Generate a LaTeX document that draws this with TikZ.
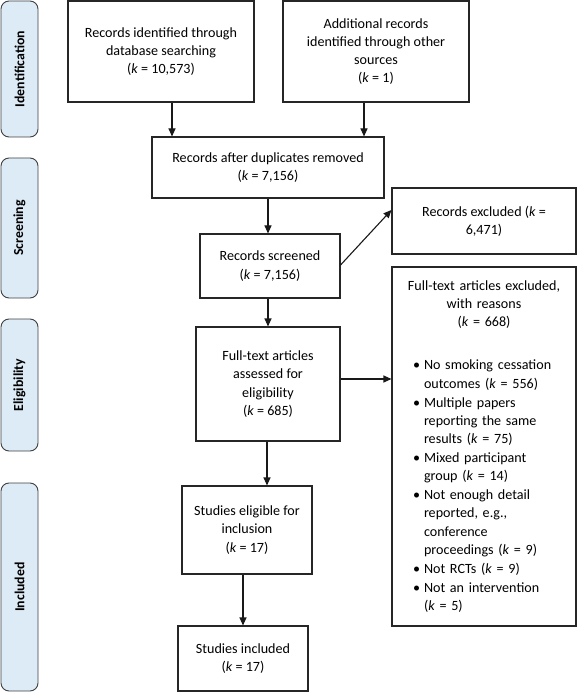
\documentclass[tikz,border=0pt]{standalone}
\usepackage{fontspec}
\setmainfont{Carlito}
\usepackage{tikz}
\usetikzlibrary{arrows.meta}
\definecolor{stagefill}{RGB}{221,235,247}
\definecolor{stageline}{RGB}{64,64,64}
\newcommand{\exitem}[1]{\par\vspace{0.8pt}\hangindent=22pt\hangafter=1\noindent\hspace*{11pt}\makebox[11pt][l]{\textbullet}#1\par}

\begin{document}
\begin{tikzpicture}[x=1pt, y=-1pt, font=\fontsize{14.1}{18.2}\selectfont,
	box/.style={draw=black!85, line width=1.1pt, align=center, inner sep=0pt},
	stage/.style={draw=stageline, fill=stagefill, line width=0.9pt, rounded corners=8pt, rotate=90, minimum height=37pt, inner sep=0pt, font=\fontsize{13.8}{16}\selectfont\bfseries},
	arr/.style={line width=1.1pt, draw=black!90, -{Triangle[length=8pt,width=7pt]}}]
			%%%%% START %%%%%
			\useasboundingbox (0,0) rectangle (577,692);
			
			\node[stage, minimum width=136pt] (ident) at (19.5,69) {Identification};
			\node[stage, minimum width=140pt] (screen) at (19.5,228) {Screening};
			\node[stage, minimum width=132pt] (elig) at (19.5,385) {Eligibility};
			\node[stage, minimum width=208pt] (incl) at (19.5,587) {Included};
			
			\node[box, minimum width=186pt, minimum height=101pt] (db) at (161,51.5) {Records identified through\\database searching\\(\textit{k} = 10,573)};
			\node[box, minimum width=186pt, minimum height=101pt] (other) at (376,51.5) {Additional records\\identified through other\\sources\\(\textit{k} = 1)};
			\node[box, minimum width=232pt, minimum height=61pt] (dup) at (268,167.5) {Records after duplicates removed\\(\textit{k} = 7,156)};
			
			\node[box, minimum width=140pt, minimum height=64pt] (screened) at (270,266) {Records screened\\(\textit{k} = 7,156)};
			\node[box, minimum width=184pt, minimum height=66pt] (excl) at (484,221) {Records excluded (\textit{k} =\\6,471)};
			
			\node[box, minimum width=144pt, minimum height=114pt] (fulltext) at (268,384) {Full-text articles\\assessed for\\eligibility\\(\textit{k} = 685)};
			\node[box, minimum width=184pt, minimum height=359pt, text width=164pt, align=left] (ftexcl) at (484,446.5) {%
				{\centering Full-text articles excluded,\\with reasons\\(\textit{k} = 668)\par}
				\vspace{24pt}
				\exitem{No smoking cessation\newline outcomes (\textit{k} = 556)}
				\exitem{Multiple papers\newline reporting the same\newline results (\textit{k} = 75)}
				\exitem{Mixed participant\newline group (\textit{k} = 14)}
				\exitem{Not enough detail\newline reported, e.g.,\newline conference\newline proceedings (\textit{k} = 9)}
				\exitem{Not RCTs (\textit{k} = 9)}
				\exitem{Not an intervention\newline (\textit{k} = 5)}};
			
			\node[box, minimum width=130pt, minimum height=88pt] (eligible) at (247,530) {Studies eligible for\\inclusion\\(\textit{k} = 17)};
			\node[box, minimum width=130pt, minimum height=65pt] (included) at (243,658.5) {Studies included\\(\textit{k} = 17)};
			
			\draw[arr] ([xshift=11pt]db.south) -- ([xshift=11pt]db.south |- dup.north);
			\draw[arr] ([xshift=-12pt]other.south) -- ([xshift=-12pt]other.south |- dup.north);
			\draw[arr] (dup.south) -- (dup.south |- screened.north);
			\draw[arr] ([yshift=1pt]screened.east) -- ([yshift=11pt]excl.west);
			\draw[arr] (screened.south -| fulltext) -- (fulltext.north);
			\draw[arr] ([yshift=5pt]fulltext.east) -- ([yshift=5pt]fulltext.east -| ftexcl.west);
			\draw[arr] ([xshift=-1pt]fulltext.south) -- ([xshift=-1pt]fulltext.south |- eligible.north);
			\draw[arr] (included.north |- eligible.south) -- (included.north);
			
			%%%%% END %%%%%
\end{tikzpicture}
\end{document}
